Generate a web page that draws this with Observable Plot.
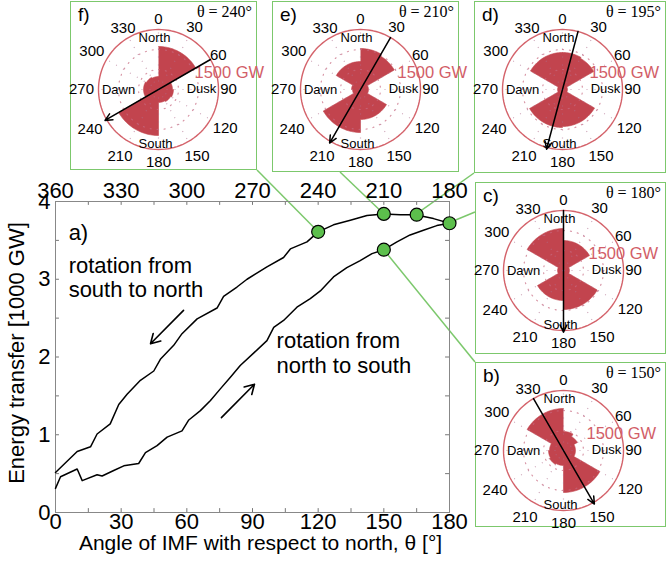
<!DOCTYPE html>
<html><head><meta charset="utf-8">
<script src="https://cdn.jsdelivr.net/npm/d3@7"></script>
<script src="https://cdn.jsdelivr.net/npm/@observablehq/plot@0.6"></script>
<style>
body{margin:0;background:#fff;}
#wrap{position:relative;width:666px;height:563px;overflow:hidden;font-family:"Liberation Sans",Arial,sans-serif;}
.box{position:absolute;border:1.6px solid #7cc86c;box-sizing:border-box;}
.lett{position:absolute;font-size:19px;line-height:1;}
.th{position:absolute;font-family:"Liberation Serif","Times New Roman",serif;font-size:16px;line-height:1;white-space:nowrap;}
</style></head>
<body><div id="wrap"></div>
<script>
// ---------- main chart data ----------
const xTicks = [0, 30, 60, 90, 120, 150, 180];
const yTicks = [0, 1, 2, 3, 4];
// rotation from north to south (theta 0 -> 180)
const thetaN2S = [0,2.3,9.9,12.2,19,21.3,26.6,31.2,38,41.1,46.4,51,57.8,60.9,66.2,70.8,75.3,79.9,84.4,90.5,96.6,99.7,104.2,110.3,116.4,121,127,133.1,139.2,144.6,150,156,162,168.1,174.2,180];
const energyN2S = [0.31,0.46,0.56,0.41,0.485,0.47,0.54,0.60,0.63,0.77,0.86,0.97,1.05,1.19,1.31,1.44,1.59,1.74,1.89,2.05,2.21,2.38,2.47,2.64,2.75,2.85,3.03,3.15,3.24,3.33,3.38,3.48,3.57,3.63,3.69,3.72];
// rotation from south to north (top axis theta 360 -> 180, plotted at 360 - theta)
const thetaS2N = [360,350.1,344,341,335,331.1,327.3,321.2,315.1,312.1,306,302.2,295.3,286.2,283.2,277.1,272.5,263.4,255.8,252.7,245.1,240,233,225.3,217.7,210,202.5,195.7,187.3,180];
const energyS2N = [0.515,0.785,0.845,1.01,1.14,1.39,1.52,1.70,1.82,1.97,2.15,2.30,2.49,2.63,2.78,2.90,3.00,3.16,3.28,3.39,3.48,3.61,3.70,3.76,3.82,3.84,3.83,3.83,3.78,3.72];
// highlighted states
const dotX = [120, 150, 165, 180, 150];
const dotY = [3.61, 3.84, 3.83, 3.72, 3.38];
const dotPanel = ["f", "e", "d", "c", "b"];

// ---------- inset data (energy per 30° sector, GW) ----------
const sectorStart = [0,30,60,90,120,150,180,210,240,270,300,330];
const ringLabels = ["0","30","60","90","120","150","180","210","240","270","300","330"];
const panels = ["f", "e", "d", "c", "b"];
const panelTheta = [240, 210, 195, 180, 150];
const roseF = [1075,1075,350,375,350,325,1150,1150,375,375,350,325];
const roseE = [1025,975,200,200,750,750,1075,1075,200,225,700,700];
const roseD = [925,900,125,125,925,925,950,950,125,125,925,925];
const roseC = [750,750,150,150,975,975,750,750,150,150,1050,1050];
const roseB = [475,400,300,300,1050,1050,375,400,375,350,1050,1050];
const roses = [roseF, roseE, roseD, roseC, roseB];
const ringGW = 1500;

// ---------- layout ----------
const FONT = '"Liberation Sans", Arial, sans-serif';
const GREEN = "#7cc86c";
const WEDGE = "#c2444e";
const RING = "#d4636b";
const boxes = {
  f: {left: 70, top: 1, w: 187, h: 169},
  e: {left: 272, top: 1, w: 187, h: 171},
  d: {left: 474, top: 1, w: 192, h: 172},
  c: {left: 475, top: 182, w: 191, h: 172},
  b: {left: 475, top: 362, w: 191, h: 165}
};
const gwLabelDx = {f: 36, e: 37, d: 27, c: 25, b: 23};
const connectorEnd = {f: [257, 170], e: [340, 172], d: [474, 173], c: [475, 212], b: [475, 362]};
const labelRadiusPx = [70,72,69,70,77,77,73,77,79,77,77,71];

const wrap = document.getElementById("wrap");

// ---------- main plot ----------
const n2s = thetaN2S.map((t, i) => ({x: t, y: energyN2S[i]}));
const s2n = thetaS2N.map((t, i) => ({x: 360 - t, y: energyS2N[i]}));
const dots = dotX.map((x, i) => ({x, y: dotY[i], p: dotPanel[i]}));
const notes = [
  {x: 6, y: 3.73, text: "a)"},
  {x: 6, y: 3.31, text: "rotation from\nsouth to north"},
  {x: 101, y: 2.34, text: "rotation from\nnorth to south"}
];
const arrows = [
  {x1: 58.5, y1: 2.60, x2: 43.4, y2: 2.17},
  {x1: 75.8, y1: 1.22, x2: 90.9, y2: 1.65}
];

const main = Plot.plot({
  width: 666, height: 563,
  marginLeft: 55, marginRight: 217, marginTop: 201, marginBottom: 51,
  x: {domain: [0, 180]},
  y: {domain: [0, 4]},
  style: {background: "transparent", overflow: "visible", fontFamily: FONT, color: "black"},
  marks: [
    Plot.ruleX(d3.range(15, 180, 15), {y1: 0, y2: 0.05, stroke: "#777"}),
    Plot.ruleX(d3.range(15, 180, 15), {y1: 3.95, y2: 4, stroke: "#777"}),
    Plot.ruleY(d3.range(0.5, 4, 0.5), {x1: 0, x2: 1.8, stroke: "#777"}),
    Plot.ruleY(d3.range(0.5, 4, 0.5), {x1: 178.2, x2: 180, stroke: "#777"}),
    Plot.frame({stroke: "#888", strokeWidth: 1}),
    Plot.axisX({anchor: "bottom", ticks: xTicks, tickFormat: d => String(d), tickSize: 0, tickPadding: 1, fontSize: 22, label: null}),
    Plot.axisX({anchor: "top", ticks: xTicks, tickFormat: d => String(360 - d), tickSize: 0, tickPadding: 4, fontSize: 22, label: null}),
    Plot.axisY({anchor: "left", ticks: yTicks, tickFormat: d => String(d), tickSize: 0, tickPadding: 5, fontSize: 22, label: null}),
    Plot.text(["Energy transfer [1000 GW]"], {frameAnchor: "left", textAnchor: "middle", dx: -39, dy: -4, rotate: -90, fontSize: 22}),
    Plot.text(["Angle of IMF with respect to north, θ [°]"], {frameAnchor: "bottom", lineAnchor: "middle", dx: 8, dy: 31, fontSize: 21}),
    Plot.line(s2n, {x: "x", y: "y", stroke: "black", strokeWidth: 1.5}),
    Plot.line(n2s, {x: "x", y: "y", stroke: "black", strokeWidth: 1.5}),
    Plot.text(notes, {x: "x", y: "y", text: "text", textAnchor: "start", lineAnchor: "top", fontSize: 22, lineHeight: 1.12}),
    Plot.arrow(arrows, {x1: "x1", y1: "y1", x2: "x2", y2: "y2", stroke: "black", strokeWidth: 1.6, headLength: 10}),
    Plot.dot(dots, {x: "x", y: "y", r: 6.5, fill: "#5cbf4c", stroke: "black", strokeWidth: 1.2})
  ]
});

// connectors (below main svg)
const xs = main.scale("x"), ys = main.scale("y");
const conn = d3.create("svg").attr("width", 666).attr("height", 563)
  .style("position", "absolute").style("left", "0px").style("top", "0px");
dots.forEach(d => {
  const e = connectorEnd[d.p];
  conn.append("line").attr("x1", xs.apply(d.x)).attr("y1", ys.apply(d.y))
    .attr("x2", e[0]).attr("y2", e[1]).attr("stroke", GREEN).attr("stroke-width", 1.5);
});
wrap.appendChild(conn.node());
main.style.position = "absolute"; main.style.left = "0px"; main.style.top = "0px";
wrap.appendChild(main);

// ---------- insets ----------
const PX = 200, HALF = 2500; // 200px plot spans ±2500 GW -> 1500 GW = 60 px
const gwPerPx = 2 * HALF / PX;
function polar(a, r) { const t = a * Math.PI / 180; return {x: r * Math.sin(t), y: r * Math.cos(t)}; }
function rosePoints(vals) {
  const pts = [];
  vals.forEach((v, i) => { for (let a = sectorStart[i]; a <= sectorStart[i] + 30; a += 2) pts.push(polar(a, v)); });
  return pts;
}
function circlePts(r) { return d3.range(0, 361, 3).map(a => polar(a, r)); }
const spokes = sectorStart.map(a => ({a, ...polar(a, ringGW)}));
const ringText = sectorStart.map((a, i) => ({...polar(a, labelRadiusPx[i] * gwPerPx), t: ringLabels[i]}));
const dirText = [
  {x: -4, y: 52, t: "North"}, {x: -3, y: -54, t: "South"},
  {x: -40, y: 0, t: "Dawn"}, {x: 43, y: 1, t: "Dusk"}
].map(d => ({x: d.x * gwPerPx, y: d.y * gwPerPx, t: d.t}));

panels.forEach((p, k) => {
  const b = boxes[p];
  const th = panelTheta[k];
  const box = document.createElement("div");
  box.className = "box";
  Object.assign(box.style, {left: b.left + "px", top: b.top + "px", width: b.w + "px", height: b.h + "px"});
  wrap.appendChild(box);

  const a0 = polar(th + 180, ringGW), a1 = polar(th, ringGW * 1.03);
  const pl = Plot.plot({
    width: PX, height: PX, margin: 0,
    x: {domain: [-HALF, HALF], axis: null},
    y: {domain: [-HALF, HALF], axis: null},
    style: {background: "transparent", overflow: "visible", fontFamily: FONT, color: "black"},
    marks: [
      Plot.line(rosePoints(roses[k]), {x: "x", y: "y", fill: WEDGE, stroke: WEDGE, strokeWidth: 0.6}),
      Plot.line(circlePts(500), {x: "x", y: "y", stroke: "#c86a80", strokeWidth: 1.2, strokeDasharray: "1,6", strokeOpacity: 0.7}),
      Plot.line(circlePts(1000), {x: "x", y: "y", stroke: "#c86a80", strokeWidth: 1.2, strokeDasharray: "1,6", strokeOpacity: 0.7}),
      Plot.link(spokes, {x1: 0, y1: 0, x2: "x", y2: "y", stroke: "#b07090", strokeWidth: 1.2, strokeDasharray: "1,7", strokeOpacity: 0.6}),
      Plot.line(circlePts(ringGW), {x: "x", y: "y", stroke: RING, strokeWidth: 1.4}),
      Plot.text(ringText, {x: "x", y: "y", text: "t", fontSize: 15}),
      Plot.text(dirText, {x: "x", y: "y", text: "t", fontSize: 13}),
      Plot.text([{x: gwLabelDx[p] * gwPerPx, y: 17 * gwPerPx}], {x: "x", y: "y", text: () => ringGW + " GW", textAnchor: "start", fontSize: 16.5, fill: "#d25e68"}),
      Plot.arrow([{x1: a0.x, y1: a0.y, x2: a1.x, y2: a1.y}], {x1: "x1", y1: "y1", x2: "x2", y2: "y2", stroke: "black", strokeWidth: 1.5, headLength: 8, headAngle: 50})
    ]
  });
  pl.style.position = "absolute";
  pl.style.left = (b.left + 88 - PX / 2) + "px";
  pl.style.top = (b.top + 88 - PX / 2) + "px";
  wrap.appendChild(pl);

  const lt = document.createElement("div");
  lt.className = "lett"; lt.textContent = p + ")";
  Object.assign(lt.style, {left: (b.left + 8) + "px", top: (b.top + 4) + "px"});
  wrap.appendChild(lt);
  const tt = document.createElement("div");
  tt.className = "th"; tt.textContent = "θ = " + th + "°";
  Object.assign(tt.style, {right: (666 - b.left - b.w + 5) + "px", top: (b.top + 3) + "px"});
  wrap.appendChild(tt);
});
</script>
</body></html>
